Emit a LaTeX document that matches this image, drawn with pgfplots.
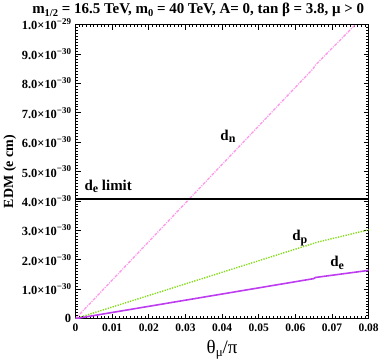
\documentclass[border=0pt]{standalone}
\usepackage{fontspec}
\setmainfont{Liberation Serif}
\usepackage{pgfplots}
\pgfplotsset{compat=1.18}
\definecolor{dnpink}{RGB}{255,150,235}
\definecolor{dpgreen}{RGB}{130,220,20}
\definecolor{depurple}{RGB}{190,60,240}
% lowered / raised small text, size given as first argument
\newcommand{\sub}[2]{\raisebox{-0.4ex}{\fontsize{#1}{#1}\selectfont #2}}
\newcommand{\ex}[1]{\raisebox{0.9ex}{\fontsize{9}{9}\selectfont #1}}
\begin{document}
\begin{tikzpicture}
\begin{axis}[
    scale only axis,
    width=294pt, height=295pt,
    xmin=0, xmax=0.08, ymin=0, ymax=1e-29,
    scaled x ticks=false, scaled y ticks=false,
    xtick={0,0.01,0.02,0.03,0.04,0.05,0.06,0.07,0.08},
    xticklabels={0,0.01,0.02,0.03,0.04,0.05,0.06,0.07,0.08},
    ytick={0,1e-30,2e-30,3e-30,4e-30,5e-30,6e-30,7e-30,8e-30,9e-30,1e-29},
    yticklabels={0,
      1.0×10\ex{−30},2.0×10\ex{−30},3.0×10\ex{−30},
      4.0×10\ex{−30},5.0×10\ex{−30},6.0×10\ex{−30},
      7.0×10\ex{−30},8.0×10\ex{−30},9.0×10\ex{−30},
      1.0×10\ex{−29}},
    minor x tick num=9, minor y tick num=9,
    tick align=inside,
    major tick length=5pt, minor tick length=2.5pt,
    tick style={black, line width=0.8pt},
    axis line style={line width=1.3pt},
    ticklabel style={font=\bfseries\fontsize{11.5}{13}\selectfont},
    xticklabel style={yshift=-2pt},
    yticklabel style={xshift=-1pt, font=\bfseries\fontsize{12.5}{14}\selectfont},
    title={m\sub{10.5}{1/2} = 16.5 TeV, m\sub{10.5}{0} = 40 TeV, A= 0, tan β = 3.8, μ > 0},
    title style={font=\bfseries\fontsize{15}{17}\selectfont, xshift=-24pt, yshift=-2pt},
    ylabel={EDM (e cm)},
    ylabel style={font=\bfseries\fontsize{14}{16}\selectfont, yshift=-1pt},
    xlabel={θ\sub{13}{μ}/π},
    xlabel style={font=\fontsize{19}{21}\selectfont, yshift=-1pt},
]
\addplot[dnpink, line width=1.3pt, dash pattern=on 3pt off 1.2pt on 1pt off 1.2pt]
  coordinates {(0,0) (0.065,8.52e-30) (0.0653,8.60e-30) (0.0764,1.0e-29)};
\addplot[black, line width=1.8pt] coordinates {(0,4.07e-30) (0.08,4.07e-30)};
\addplot[dpgreen, line width=1.4pt, dash pattern=on 1.3pt off 1.3pt]
  coordinates {(0,0) (0.065,2.56e-30) (0.066,2.60e-30) (0.08,3.02e-30)};
\addplot[depurple, line width=1.6pt]
  coordinates {(0,0) (0.065,1.36e-30) (0.0655,1.40e-30) (0.08,1.64e-30)};
\node[font=\bfseries\fontsize{15}{17}\selectfont] at (axis cs:0.0416,6.2e-30) {d\sub{12}{n}};
\node[font=\bfseries\fontsize{15}{17}\selectfont, anchor=west] at (axis cs:0.0015,4.5e-30) {d\sub{12}{e} limit};
\node[font=\bfseries\fontsize{15}{17}\selectfont] at (axis cs:0.0612,2.75e-30) {d\sub{12}{p}};
\node[font=\bfseries\fontsize{15}{17}\selectfont] at (axis cs:0.0714,1.9e-30) {d\sub{12}{e}};
\end{axis}
\end{tikzpicture}
\end{document}
